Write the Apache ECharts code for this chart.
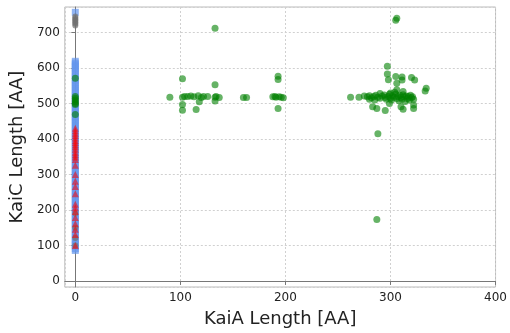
<!DOCTYPE html>
<html>
<head>
<meta charset="utf-8">
<script src="https://cdn.jsdelivr.net/npm/echarts@6/dist/echarts.min.js"></script>
<style>
  html, body { margin: 0; padding: 0; background: #fff; }
  #chart { width: 510px; height: 333px; }
</style>
</head>
<body>
<div id="chart"></div>
<script>
// KaiC lengths for proteins with no KaiA (x = 0)
var blueY = [757, 619, 614, 609, 603, 597, 591, 584, 577, 571, 564, 557, 551, 544, 537, 531, 524, 518, 511, 505,
  498, 491, 485, 478, 472, 465, 459, 452, 446, 439, 432, 426, 419, 413, 406, 400, 393, 387, 380, 373,
  367, 360, 354, 347, 341, 334, 327, 321, 314, 308, 301, 295, 288, 281, 275, 268, 262, 255, 249, 242,
  236, 229, 222, 216, 209, 203, 196, 190, 183, 176, 170, 163, 157, 150, 144, 137, 131, 124, 117, 111,
  104, 98, 91, 86]
var grayY = [745, 741, 737, 733, 729, 725, 720, 190, 150, 121, 100]
var redY = [430, 423, 416, 410, 403, 396, 390, 384, 378, 371, 363, 356, 349, 342, 326, 300, 281, 266, 246,
  216, 206, 196, 179, 161, 146, 131, 100]
// KaiA / KaiC pairs
var greenX = [0, 0, 0, 0, 0, 0, 0, 0,
  90, 102, 102, 102, 102, 104, 107, 110, 113, 115, 117, 118, 120, 122, 126, 133, 133, 133, 134, 137, 133,
  160, 163,
  188, 190, 191, 193, 193, 193, 194, 196, 198,
  262, 270, 275, 278, 280, 282, 284, 286, 288, 290, 292, 294, 295, 296, 298, 299, 300, 301, 302, 303,
  305, 306, 307, 308, 309, 310, 311, 312, 313, 314, 315, 316, 317, 318, 319, 320, 321, 322,
  283, 287, 295, 299, 310, 312, 322, 322, 297, 297, 298, 305, 311, 311, 320, 323, 306, 306, 312, 334,
  333, 288, 287, 305, 306, 300, 304, 290, 285, 280]
var greenY = [571, 520, 515, 510, 505, 500, 497, 469,
  518, 570, 518, 497, 481, 520, 520, 521, 519, 483, 522, 505, 517, 520, 520, 553, 507, 518, 520, 517, 712,
  517, 517,
  519, 520, 518, 577, 568, 486, 519, 518, 516,
  518, 518, 521, 519, 522, 516, 520, 523, 518, 515, 521, 524, 517, 512, 520, 526, 515, 510, 522, 518,
  527, 514, 520, 508, 523, 517, 512, 525, 519, 506, 521, 514, 520, 510, 523, 516, 519, 512,
  491, 486, 480, 500, 491, 484, 486, 496, 605, 583, 567, 576, 575, 566, 573, 566, 557, 539, 534, 543,
  535, 415, 173, 735, 740, 530, 532, 528, 510, 512]

function pts(xs, ys) {
  var out = []
  for (var i = 0; i < ys.length; i++) out.push([xs ? xs[i] : 0, ys[i]])
  return out
}

var font = 'DejaVu Sans'
var myChart = echarts.init(document.getElementById('chart'))
myChart.setOption({
  animation: false,
  grid: { left: 62, right: 13, top: 7, bottom: 40, show: true, borderColor: '#bbb', borderWidth: 1 },
  xAxis: {
    type: 'value', min: -10, max: 400, splitNumber: 4,
    name: 'KaiA Length [AA]', nameLocation: 'middle', nameGap: 23,
    nameTextStyle: { fontFamily: font, fontSize: 18, color: '#222' },
    axisLine: { lineStyle: { color: '#777' } },
    axisTick: { show: true, length: 4, lineStyle: { color: '#777' } },
    axisLabel: { fontFamily: font, fontSize: 12, color: '#222', margin: 5, showMinLabel: false },
    splitLine: { show: true, lineStyle: { color: '#d0d0d0', type: [2, 2] } }
  },
  yAxis: {
    type: 'value', min: -17, max: 772, splitNumber: 8,
    name: 'KaiC Length [AA]', nameLocation: 'middle', nameGap: 37,
    nameTextStyle: { fontFamily: font, fontSize: 18, color: '#222' },
    axisLine: { show: true, lineStyle: { color: '#777' } },
    axisTick: { show: true, length: 4, lineStyle: { color: '#777' } },
    axisLabel: { fontFamily: font, fontSize: 12, color: '#222', margin: 5, showMinLabel: false, showMaxLabel: false },
    splitLine: { show: true, lineStyle: { color: '#d0d0d0', type: [2, 2] } }
  },
  series: [{
    type: 'scatter', data: pts(null, blueY), symbol: 'rect', symbolSize: 7,
    itemStyle: { color: '#6495ED', opacity: 0.7 }
  }, {
    type: 'scatter', data: pts(null, grayY), symbol: 'circle', symbolSize: 6,
    itemStyle: { color: '#707070', opacity: 0.7 }
  }, {
    type: 'scatter', data: pts(null, redY), symbol: 'triangle', symbolSize: 7,
    itemStyle: { color: '#ff0000', opacity: 0.55 }
  }, {
    type: 'scatter', data: pts(greenX, greenY), symbol: 'circle', symbolSize: 7,
    itemStyle: { color: '#008000', opacity: 0.6 }
  }]
})
</script>
</body>
</html>
